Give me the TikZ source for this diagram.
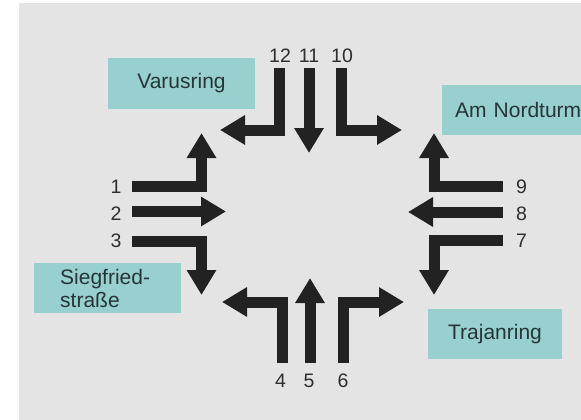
\documentclass[tikz,border=0pt]{standalone}
\usepackage{fontspec}
\setmainfont{Liberation Sans}
\usetikzlibrary{arrows.meta}
\definecolor{bgc}{HTML}{E4E4E4}
\definecolor{boxfill}{HTML}{98CFCF}
\definecolor{boxtext}{HTML}{263638}
\definecolor{arrc}{HTML}{222222}
\definecolor{numc}{HTML}{2E2E2E}
\begin{document}
\begin{tikzpicture}[x=1pt,y=-1pt,
  lane/.style={draw=arrc, line width=11pt, line join=miter,
    -{Triangle[length=25pt,width=28pt]}},
  street/.style={fill=boxfill, inner sep=0pt, text=boxtext,
    font=\fontsize{21}{23}\selectfont},
  num/.style={inner sep=0pt, text=numc, font=\fontsize{19.5}{21}\selectfont}]
\useasboundingbox (0,0) rectangle (581,420);
\clip (0,0) rectangle (581,420);
\fill[white] (0,0) rectangle (581,420);
\fill[bgc] (19,3) rectangle (581,420);

% street boxes
\node[street, minimum width=147pt, minimum height=51pt] (varus) at (181.5,83.5) {Varusring};
\node[street, anchor=west, minimum height=50pt, text width=127pt, inner xsep=13pt, align=left] (nord) at (442,110) {Am Nordturm};
\node[street, minimum height=50pt, text width=121pt, inner xsep=13pt, align=left, anchor=west] (sieg) at (34,288) {\hspace*{13pt}Siegfried-\\\hspace*{13pt}straße};
\node[street, minimum width=134pt, minimum height=50pt] (trajan) at (495,334) {Trajanring};

% lanes, left
\draw[lane] (132,186.5) -| (201.5,133);
\draw[lane] (132,211.5) -- (226,211.5);
\draw[lane] (132,241) -| (201.5,295);
% lanes, right
\draw[lane] (503,186.5) -| (434,133);
\draw[lane] (503,212) -- (408,212);
\draw[lane] (503,240.5) -| (434,295);
% lanes, top
\draw[lane] (279.5,68) |- (220,130);
\draw[lane] (309,68) -- (309,153);
\draw[lane] (341.5,68) |- (402,130);
% lanes, bottom
\draw[lane] (282,363) |- (222,302);
\draw[lane] (310,363) -- (310,278);
\draw[lane] (343.5,363) |- (404,302);

% lane numbers
\node[num] (n1) at (116,187) {1};
\node[num] (n2) at (116,214) {2};
\node[num] (n3) at (116,241) {3};
\node[num] (n4) at (280.5,380.5) {4};
\node[num] (n5) at (309,380.5) {5};
\node[num] (n6) at (343,380.5) {6};
\node[num] (n7) at (521.5,241) {7};
\node[num] (n8) at (521.5,214) {8};
\node[num] (n9) at (521.5,186.5) {9};
\node[num] (n10) at (342,55.5) {10};
\node[num] (n11) at (309,55.5) {11};
\node[num] (n12) at (280,55.5) {12};
\end{tikzpicture}
\end{document}
